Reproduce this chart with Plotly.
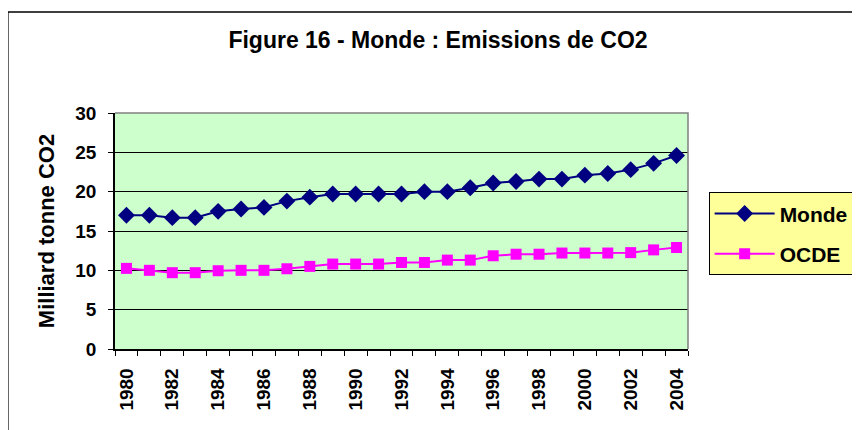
import plotly.graph_objects as go

# Données (milliards de tonnes de CO2)
years = list(range(1980, 2005))
monde = [17.0, 17.0, 16.7, 16.7, 17.5, 17.8, 18.0, 18.8, 19.3, 19.7, 19.7, 19.7, 19.7,
         20.0, 20.0, 20.5, 21.1, 21.3, 21.6, 21.6, 22.1, 22.3, 22.8, 23.6, 24.6]
ocde = [10.25, 10.0, 9.7, 9.7, 9.95, 10.0, 10.0, 10.2, 10.5, 10.8, 10.8, 10.8, 11.0,
        11.0, 11.3, 11.3, 11.85, 12.05, 12.05, 12.2, 12.2, 12.2, 12.25, 12.6, 12.9]
label_years = years[::2]

FONT = "Arial, Liberation Sans, sans-serif"

fig = go.Figure()

fig.add_trace(go.Scatter(
    x=years, y=monde, name="Monde", mode="lines+markers",
    line=dict(color="#000080", width=2),
    marker=dict(symbol="diamond", size=13, color="#000080"),
    legendgroup="a",
))
fig.add_trace(go.Scatter(
    x=years, y=ocde, name="OCDE", mode="lines+markers",
    line=dict(color="#FF00FF", width=2),
    marker=dict(symbol="square", size=11, color="#FF00FF"),
    legendgroup="b",
))

# cadre du graphique (bordure extérieure)
fig.add_shape(type="rect", xref="paper", yref="paper",
              x0=-0.187, x1=1.32, y0=-0.45, y1=1.428,
              line=dict(color="black", width=1.5), fillcolor="rgba(0,0,0,0)",
              layer="below")
# bordure grise haut / droite de la zone de tracé
fig.add_shape(type="path", xref="paper", yref="paper",
              path="M 0,1 L 1,1 L 1,0",
              line=dict(color="#808080", width=1.5), layer="above")

fig.update_layout(
    width=860, height=430,
    margin=dict(l=107, r=180, t=105, b=89),
    paper_bgcolor="white",
    plot_bgcolor="#CCFFCC",
    font=dict(family=FONT, color="black"),
    title=dict(
        text="Figure 16 - Monde : Emissions de CO2",
        x=0.5, xanchor="center", y=0.925, yanchor="middle",
        font=dict(size=23, weight="bold", family=FONT, color="black"),
    ),
    showlegend=True,
    legend=dict(
        x=1.036, xanchor="left", y=0.664, yanchor="top",
        bgcolor="#FFFF99", bordercolor="black", borderwidth=1,
        font=dict(size=21, weight="bold", family=FONT, color="black"),
        tracegroupgap=10, itemwidth=60,
    ),
)

fig.update_xaxes(
    range=[years[0] - 0.5, years[-1] + 0.5],
    tickmode="array", tickvals=label_years,
    ticktext=[str(y) for y in label_years],
    tickangle=-90, ticks="", ticklabelstandoff=10,
    tickfont=dict(size=19, weight="bold", family=FONT, color="black"),
    showgrid=False, zeroline=False,
    showline=True, linecolor="black", linewidth=1.5,
    minor=dict(tickmode="array",
               tickvals=[y - 0.5 for y in years] + [years[-1] + 0.5],
               ticks="outside", ticklen=5, tickcolor="black", tickwidth=1,
               showgrid=False),
)
fig.update_yaxes(
    range=[0, 30], tickmode="linear", tick0=0, dtick=5,
    ticks="outside", ticklen=5, tickcolor="black", tickwidth=1,
    ticklabelstandoff=8,
    tickfont=dict(size=19, weight="bold", family=FONT, color="black"),
    showgrid=True, gridcolor="black", gridwidth=1,
    zeroline=False,
    showline=True, linecolor="black", linewidth=1.5,
    title=dict(text="Milliard tonne CO2", standoff=15,
               font=dict(size=22, weight="bold", family=FONT, color="black")),
)

fig.write_html("out.html")
